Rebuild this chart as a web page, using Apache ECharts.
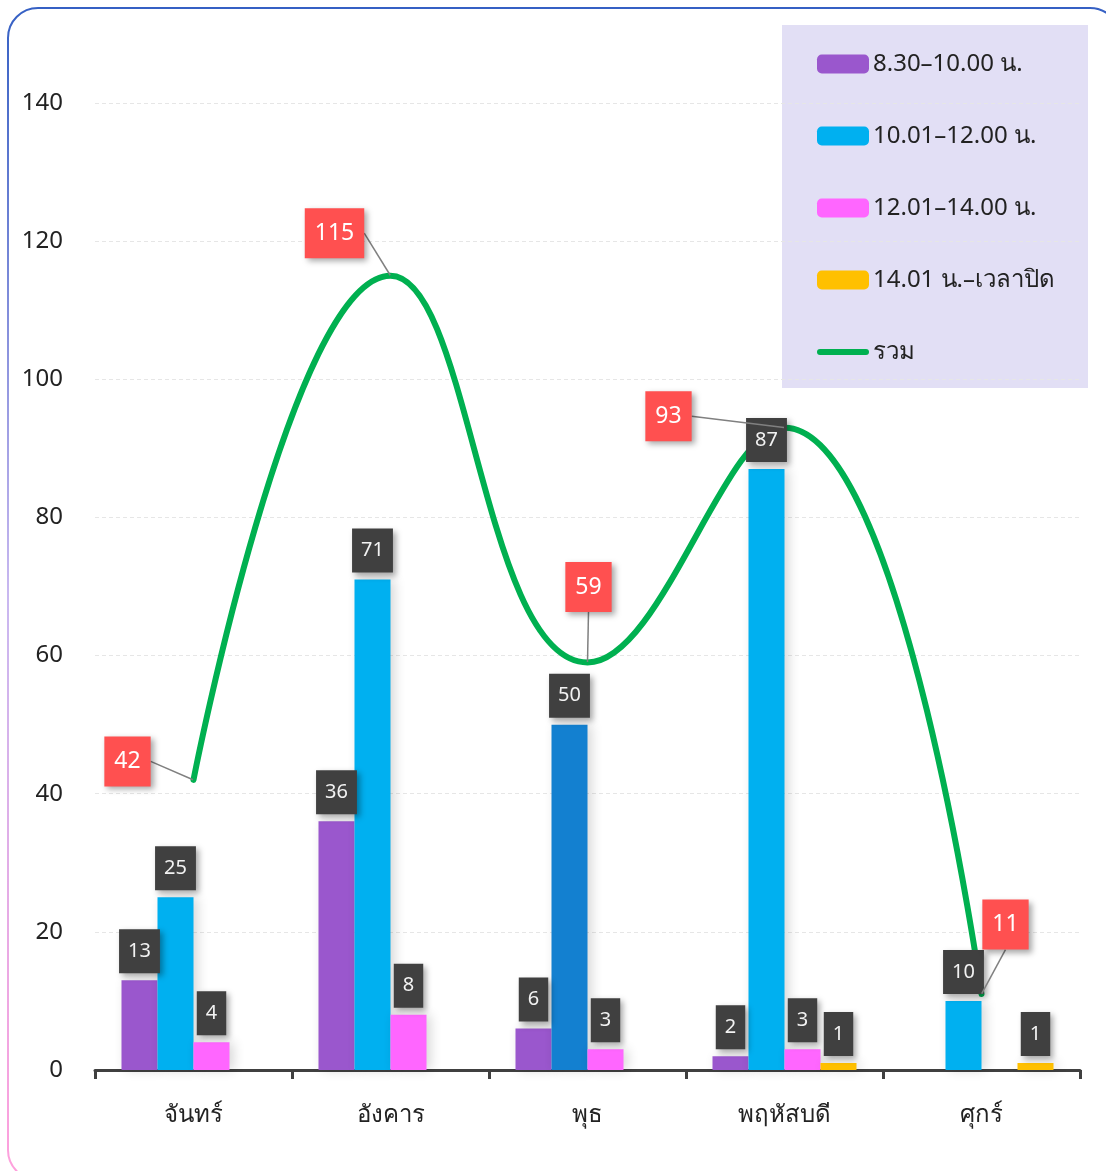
<!DOCTYPE html>
<html>
<head>
<meta charset="utf-8">
<script src="https://cdn.jsdelivr.net/npm/echarts@6/dist/echarts.min.js"></script>
<style>
  html, body { margin: 0; padding: 0; background: #fff; }
  #main { width: 1106px; height: 1171px; }
</style>
</head>
<body>
<div id="main"></div>
<script>
// ข้อมูล
const days = ['จันทร์', 'อังคาร', 'พุธ', 'พฤหัสบดี', 'ศุกร์']
const names = ['8.30–10.00 น.', '10.01–12.00 น.', '12.01–14.00 น.', '14.01 น.–เวลาปิด', 'รวม']
const morning = [13, 36, 6, 2, null]
const lateMorning = [25, 71, 50, 87, 10]
const afternoon = [4, 8, 3, 3, null]
const evening = [null, null, null, 1, 1]
const total = [42, 115, 59, 93, 11]
const yTicks = { min: 0, max: 140, interval: 20 }

const FONT = '"Noto Sans", "DejaVu Sans", sans-serif'
const colors = ['#9A57CD', '#00B0F0', '#FF66FF', '#FFC000']

// ป้ายค่าแต่ละแท่ง (กล่องสีเทาเข้ม)
const barLabel = {
  show: true,
  position: 'top',
  distance: 7,
  color: '#f2f2f2',
  fontSize: 20,
  fontFamily: FONT,
  lineHeight: 20,
  backgroundColor: '#404040',
  padding: [12, 9],
  shadowColor: 'rgba(0,0,0,0.35)',
  shadowBlur: 6,
  shadowOffsetX: 3,
  shadowOffsetY: 3
}

function barSeries(i, values) {
  return {
    name: names[i],
    type: 'bar',
    barWidth: 36,
    barGap: '0%',
    data: values.map((v, k) => {
      // พุธ ช่วง 10.01-12.00 ใช้สีน้ำเงินเข้ม
      if (i === 1 && k === 2) return { value: v, itemStyle: { color: '#1380D0' } }
      return v
    }),
    itemStyle: {
      color: colors[i],
      shadowColor: 'rgba(0,0,0,0.16)',
      shadowBlur: 12,
      shadowOffsetX: 4
    },
    label: barLabel,
    z: 3
  }
}

// ตำแหน่งป้ายของเส้นรวม (เลื่อนจากตำแหน่งปกติ)
const totalLabelShift = [[-66, 12], [-56, -12], [1, -45], [-116, 19], [24, -39]]

const lineIcon = 'path://M0,0M52,19M3,6.5L49,6.5Q52,6.5 52,9.5Q52,12.5 49,12.5L3,12.5Q0,12.5 0,9.5Q0,6.5 3,6.5Z'

const chart = echarts.init(document.getElementById('main'))
const option = {
  backgroundColor: '#fff',
  textStyle: { fontFamily: FONT },
  graphic: [
    {
      type: 'rect',
      z: -10,
      shape: { x: 8, y: 8, width: 1112, height: 1172, r: 30 },
      style: {
        fill: 'transparent',
        lineWidth: 2,
        stroke: {
          type: 'linear', x: 0, y: 0, x2: 0, y2: 1,
          colorStops: [
            { offset: 0, color: '#3560C4' },
            { offset: 0.5, color: '#C9B8F0' },
            { offset: 1, color: '#FFA0DC' }
          ]
        }
      }
    },
    {
      type: 'rect',
      z: 0,
      shape: { x: 782, y: 25, width: 306, height: 363 },
      style: { fill: '#E2DFF5' }
    }
  ],
  legend: {
    orient: 'vertical',
    left: 817,
    top: 52,
    padding: 0,
    itemWidth: 52,
    itemHeight: 19,
    itemGap: 48,
    textStyle: { fontSize: 24, color: '#222', fontFamily: FONT, lineHeight: 19, padding: [0, 0, 0, -1] },
    data: names.map((n, i) => (i === 4 ? { name: n, icon: lineIcon } : n))
  },
  grid: { left: 95, right: 26, top: 103, bottom: 101 },
  xAxis: {
    type: 'category',
    data: days,
    axisLine: { lineStyle: { color: '#404040', width: 3 } },
    axisTick: { show: true, length: 9, lineStyle: { color: '#404040', width: 3 } },
    axisLabel: { fontSize: 24, color: '#222', margin: 33, fontFamily: FONT }
  },
  yAxis: {
    type: 'value',
    min: yTicks.min,
    max: yTicks.max,
    interval: yTicks.interval,
    axisLine: { show: false },
    axisTick: { show: false },
    axisLabel: { fontSize: 24, color: '#222', margin: 32, fontFamily: FONT, padding: [7, 0, 0, 0] },
    splitLine: { lineStyle: { color: '#e6e6e6', type: [4, 3], width: 1 } }
  },
  series: [
    barSeries(0, morning),
    barSeries(1, lateMorning),
    barSeries(2, afternoon),
    barSeries(3, evening),
    {
      name: names[4],
      type: 'line',
      data: total,
      smooth: 0.45,
      symbol: 'none',
      z: 2,
      lineStyle: { color: '#00B050', width: 6, cap: 'round' },
      itemStyle: { color: '#00B050' }
    },
    {
      // ป้ายค่ารวม (กล่องสีแดง + เส้นชี้)
      name: 'total-label',
      type: 'scatter',
      data: total,
      symbolSize: 1,
      z: 10,
      silent: true,
      itemStyle: { color: 'rgba(0,0,0,0)', opacity: 1 },
      label: {
        show: true,
        position: 'top',
        distance: 5,
        opacity: 1,
        color: '#fff',
        fontSize: 23,
        lineHeight: 22,
        fontFamily: FONT,
        backgroundColor: '#FF5050',
        padding: [14, 10],
        shadowColor: 'rgba(0,0,0,0.35)',
        shadowBlur: 6,
        shadowOffsetX: 3,
        shadowOffsetY: 3
      },
      labelLine: {
        show: true,
        lineStyle: { color: '#808080', width: 1.5, opacity: 1 }
      },
      labelLayout: function (params) {
        const s = totalLabelShift[params.dataIndex]
        return { dx: s[0], dy: s[1] }
      }
    }
  ]
}
option && chart.setOption(option)
</script>
</body>
</html>
